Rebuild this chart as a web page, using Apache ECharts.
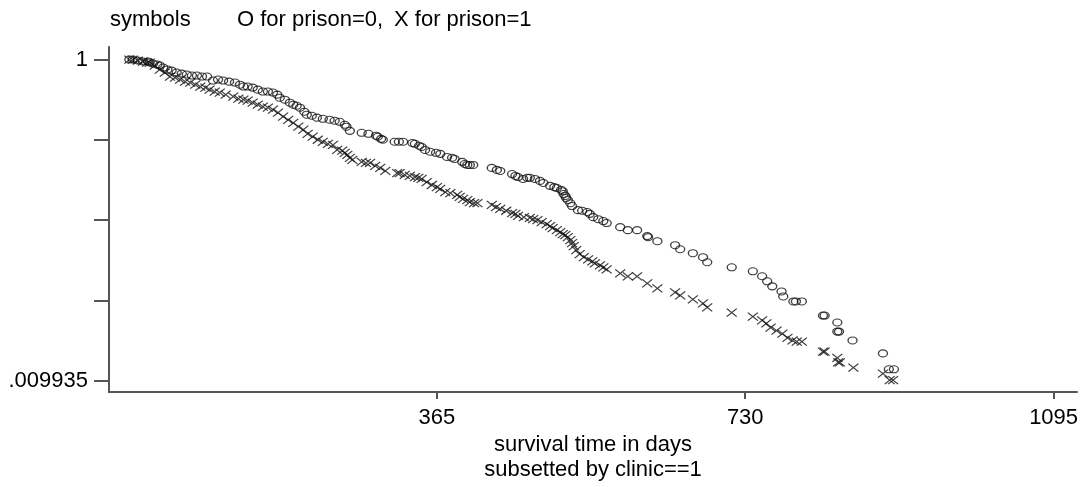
<!DOCTYPE html>
<html>
<head>
<meta charset="utf-8">
<script src="https://cdn.jsdelivr.net/npm/echarts@6/dist/echarts.min.js"></script>
<style>
  html, body { margin: 0; padding: 0; background: #fff; }
  #chart { width: 1089px; height: 487px; }
</style>
</head>
<body>
<div id="chart"></div>
<script>
// ---- data (survival time in days, survival probability) ----
const prison0Days = [1,5,11,17,23,25,29,34,37,41,46,51,57,63,69,75,81,87,93,100,106,112,119,126,132,136,141,147,153,159,165,171,176,179,185,191,195,199,203,208,211,217,223,230,238,244,250,256,258,262,276,284,293,295,299,301,315,320,325,336,339,344,347,351,357,364,369,377,383,386,395,398,401,404,408,430,436,440,454,458,461,467,472,475,481,487,491,499,504,507,512,514,515,517,518,520,523,525,532,537,543,546,550,556,562,566,582,591,602,614,615,626,647,653,668,680,685,714,739,750,756,762,773,775,787,790,797,822,824,839,839,841,857,893,900,906];
const prison0Surv = [1,1,.986,.972,.972,.958,.944,.930,.917,.891,.866,.853,.829,.817,.806,.794,.794,.783,.783,.739,.750,.739,.728,.718,.697,.678,.678,.668,.649,.631,.631,.622,.604,.578,.562,.538,.523,.515,.501,.473,.453,.446,.434,.427,.421,.415,.409,.392,.381,.359,.349,.344,.335,.330,.320,.316,.307,.307,.307,.302,.298,.290,.285,.273,.266,.262,.258,.247,.244,.240,.230,.223,.220,.220,.220,.211,.205,.202,.193,.188,.185,.180,.183,.183,.180,.175,.170,.163,.160,.158,.154,.151,.145,.141,.137,.133,.127,.122,.115,.114,.112,.109,.104,.101,.0983,.0955,.0901,.0863,.0863,.0792,.0780,.0736,.0695,.0656,.0620,.0585,.0544,.0506,.0478,.0445,.0414,.0385,.0358,.0333,.0310,.0310,.0310,.0253,.0253,.0229,.0201,.0201,.0177,.0147,.0117,.0117];

const prison1Days = [1,5,11,17,22,25,31,37,43,49,55,61,67,73,79,85,91,96,102,108,115,124,130,136,141,147,153,159,165,171,177,183,189,195,201,207,212,218,224,230,236,242,247,253,256,259,262,265,276,281,286,292,298,304,318,321,327,333,339,343,347,353,359,365,369,375,381,389,392,396,401,404,409,413,430,435,440,447,454,458,461,468,475,479,484,489,495,499,502,507,511,514,517,520,523,525,527,530,534,539,544,549,552,558,562,566,582,591,602,614,626,647,653,668,680,685,714,739,750,755,760,767,774,780,786,791,797,822,824,839,840,842,858,893,901,905];
const prison1Surv = [1,1,.986,.972,.958,.958,.917,.866,.829,.783,.772,.750,.728,.718,.697,.678,.668,.649,.631,.622,.604,.587,.570,.562,.554,.538,.523,.508,.501,.487,.466,.440,.421,.403,.381,.365,.344,.330,.316,.307,.298,.294,.273,.270,.262,.254,.244,.237,.230,.227,.227,.217,.211,.202,.196,.196,.191,.188,.185,.183,.180,.172,.165,.160,.156,.149,.147,.143,.139,.135,.133,.129,.127,.127,.124,.120,.117,.114,.110,.109,.106,.104,.103,.101,.0997,.0969,.0941,.0914,.0888,.0863,.0838,.0815,.0803,.0780,.0747,.0715,.0685,.0647,.0611,.0585,.0568,.0552,.0536,.0521,.0506,.0492,.0464,.0445,.0445,.0402,.0374,.0353,.0338,.0319,.0302,.0285,.0264,.0249,.0236,.0226,.0213,.0204,.0195,.0184,.0177,.0174,.0174,.0151,.0151,.0138,.0129,.0129,.0120,.0110,.0100,.0100];

const xTickValues = [365, 730, 1095];
const yTopLabel = '1';
const yBottomValue = 0.009935;
const yBottomLabel = '.009935';
const headerTexts = ['symbols', 'O for prison=0,', 'X for prison=1'];
const xAxisTitle = 'survival time in days';
const subTitle = 'subsetted by clinic==1';

// log scale: one axis unit = a quarter of the span from 1 down to .009935
const unit = -Math.log10(yBottomValue) / 4;
const toAxis = s => Math.log10(s) / unit;
const pts = (days, surv) => days.map((d, i) => [d, toAxis(surv[i])]);

const FONT = '"Liberation Sans", Arial, Helvetica, sans-serif';
const LINE = '#555';
const MARK = '#111';
const crossPath = 'path://M0,0L10,10M0,10L10,0';

const chart = echarts.init(document.getElementById('chart'), null, { renderer: 'canvas' });
chart.setOption({
  animation: false,
  backgroundColor: '#fff',
  textStyle: { fontFamily: FONT },
  grid: { left: 109, right: 12, top: 47, bottom: 95, containLabel: false },
  xAxis: {
    type: 'value',
    min: -23.1,
    max: 1122.7,
    name: xAxisTitle,
    nameLocation: 'middle',
    nameGap: 38,
    nameTextStyle: { fontSize: 22, color: '#000', fontFamily: FONT },
    axisLine: { show: true, onZero: false, lineStyle: { color: LINE, width: 2 } },
    axisTick: { show: true, length: 7, customValues: xTickValues, lineStyle: { color: LINE, width: 2 } },
    axisLabel: {
      customValues: xTickValues, margin: 15, fontSize: 22, color: '#000', fontFamily: FONT,
      formatter: v => String(Math.round(v))
    },
    splitLine: { show: false }
  },
  yAxis: {
    type: 'value',
    min: -4.141,
    max: 0.156,
    axisLine: { show: true, onZero: false, lineStyle: { color: LINE, width: 2 } },
    axisTick: { show: true, length: 15, customValues: [0, -1, -2, -3, -4], lineStyle: { color: LINE, width: 2 } },
    axisLabel: {
      customValues: [0, -4],
      margin: 21,
      fontSize: 22,
      color: '#000',
      fontFamily: FONT,
      formatter: v => (Math.abs(v) < 1e-6 ? yTopLabel : yBottomLabel)
    },
    splitLine: { show: false }
  },
  graphic: [
    { type: 'text', left: 110, top: 9, style: { text: headerTexts[0], font: '22px ' + FONT, fill: '#000' } },
    { type: 'text', left: 237, top: 9, style: { text: headerTexts[1], font: '22px ' + FONT, fill: '#000' } },
    { type: 'text', left: 394, top: 9, style: { text: headerTexts[2], font: '22px ' + FONT, fill: '#000' } },
    { type: 'text', x: 593, y: 470, style: { text: subTitle, font: '22px ' + FONT, fill: '#000', align: 'center', verticalAlign: 'middle' } }
  ],
  series: [
    {
      name: 'prison=0',
      type: 'scatter',
      data: pts(prison0Days, prison0Surv),
      symbol: 'circle',
      symbolSize: [9, 7],
      itemStyle: { color: 'rgba(0,0,0,0)', borderColor: MARK, borderWidth: 1.2 },
      silent: true
    },
    {
      name: 'prison=1',
      type: 'scatter',
      data: pts(prison1Days, prison1Surv),
      symbol: crossPath,
      symbolSize: [10, 8],
      itemStyle: { color: 'rgba(0,0,0,0)', borderColor: MARK, borderWidth: 1.2 },
      silent: true
    }
  ]
});
</script>
</body>
</html>
